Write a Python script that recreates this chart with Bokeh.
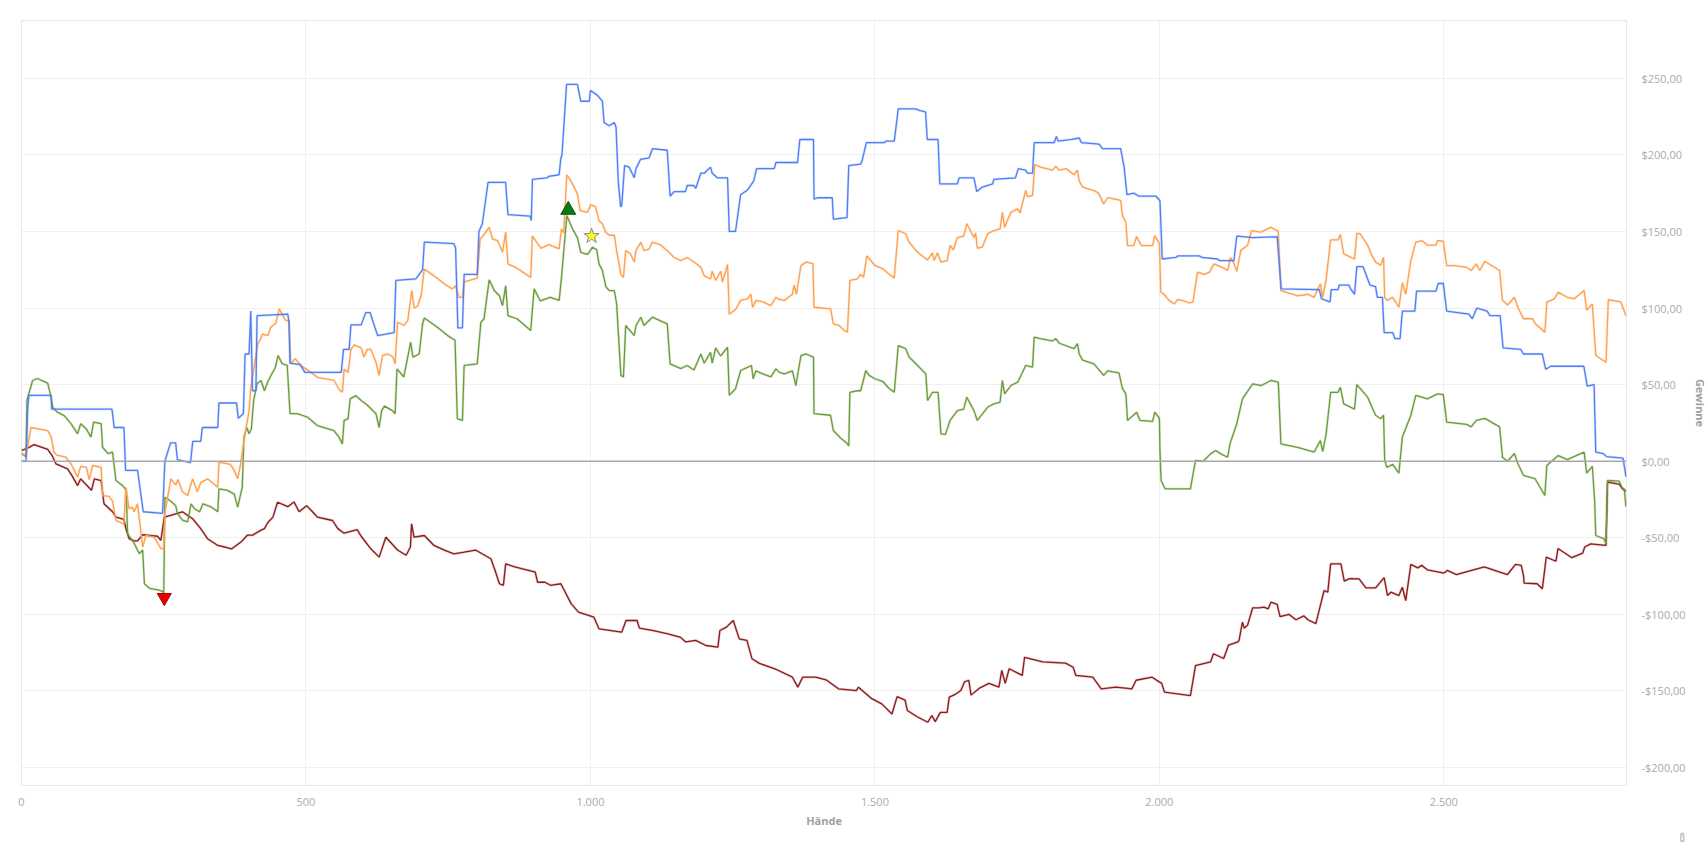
from bokeh.plotting import figure
from bokeh.models import Range1d, FixedTicker, Span, Title
from bokeh.embed import file_html
from bokeh.resources import INLINE

# ---- data (hands, winnings in $) ----
blue_pts = [(0,0),(8,0),(11,35),(13,43),(52,43),(53,34),(159,34),(163,22),(180,22),(183,-6),(204,-6),(214,-33),(248,-34),(252,0),(262,12),(271,12),(274,1),(297,-1),(301,13),(315,13),(318,22),(345,22),(347,38),(378,38),(381,28),(390,31),(393,70),(400,70),(403,98),(406,46),(412,46),(414,95),(468,96),(470,91),(472,64),(490,63),(498,58),(562,58),(566,73),(576,73),(579,89),(597,89),(605,97),(613,97),(617,92),(626,82),(655,84),(658,118),(693,119),(705,125),(708,143),(760,142),(763,139),(767,87),(775,87),(778,122),(801,122),(804,150),(810,155),(820,182),(851,182),(855,161),(894,160),(896,157),(898,184),(924,185),(927,186),(945,187),(948,198),(950,200),(958,246),(977,246),(983,235),(998,235),(1000,242),(1012,239),(1021,235),(1024,221),(1033,219),(1042,221),(1045,218),(1049,182),(1053,166),(1055,167),(1060,193),(1068,192),(1077,185),(1080,191),(1088,197),(1103,198),(1109,204),(1135,203),(1140,173),(1147,176),(1167,176),(1170,180),(1182,180),(1185,178),(1194,188),(1200,188),(1211,192),(1214,188),(1223,185),(1241,185),(1244,150),(1255,150),(1261,166),(1264,174),(1276,177),(1287,183),(1292,191),(1323,191),(1326,195),(1364,195),(1368,210),(1392,210),(1393,171),(1399,172),(1425,172),(1427,158),(1451,159),(1454,193),(1475,194),(1478,197),(1485,208),(1516,208),(1520,209),(1534,209),(1541,230),(1572,230),(1578,229),(1589,228),(1592,210),(1611,210),(1614,181),(1645,181),(1648,185),(1674,185),(1679,176),(1689,179),(1707,181),(1709,184),(1747,185),(1752,191),(1765,190),(1768,188),(1777,188),(1780,208),(1815,208),(1819,212),(1822,209),(1844,210),(1859,211),(1863,208),(1894,207),(1900,204),(1932,204),(1938,192),(1943,174),(1955,175),(1964,173),(1994,173),(2001,170),(2005,132),(2029,133),(2032,134),(2070,134),(2075,133),(2102,132),(2105,131),(2131,131),(2136,147),(2164,146),(2207,146.5),(2214,112.5),(2281,112),(2285,106),(2300,104),(2302,112),(2314,112),(2316,115),(2333,115),(2336,112.5),(2343,109),(2347,127),(2358,127),(2370,115),(2380,114),(2383,107),(2392,107),(2395,84),(2410,84),(2414,80),(2423,80),(2427,98),(2449,98),(2452,111),(2486,111),(2490,116),(2499,116),(2505,98),(2544,96),(2550,93),(2558,100),(2576,98),(2581,95),(2599,95),(2604,74),(2635,73),(2640,70),(2673,70),(2679,60),(2688,62),(2746,62),(2752,49),(2764,50),(2767,6),(2780,5),(2786,3),(2815,2),(2820,-10)]

orange_pts = [(0,5),(8,4),(12,12),(16.5,22),(46,20),(52,16),(57,6),(62,4),(78,2.6),(87,-1.7),(98.6,-10.4),(104,-3.3),(114,-4),(119,-12),(125,-2.8),(140,-4),(142.5,-22.4),(154,-23),(160,-26),(166,-38.7),(180,-41),(183.5,-17),(189,-31),(195,-30),(198,-33),(204,-27.8),(213,-56),(218.6,-48.5),(233,-49.6),(245,-57),(250,-57),(252,-34),(262.5,-11.5),(271,-15.5),(275,-12),(283,-20),(292,-22.4),(300.7,-11.5),(309,-20),(315,-14),(327,-11.5),(345,-17),(347,-0.6),(367,-2),(374,-6),(380,-11.5),(385,-2),(391,13.5),(400,33),(403,48),(415,76),(424,83),(433,82),(438,87.5),(447,90),(453,99.5),(458,96),(464,92),(470.5,91.8),(473,63.5),(481,67),(491,62.5),(508.6,58),(520,54.8),(549.6,52.7),(558,47),(564,45),(567,60),(574,58),(579,73),(585,76),(597,74),(602,68),(608,73),(614,73),(623,64.6),(628.6,56),(634.6,69),(644,70),(653,68),(656.7,63.5),(661,90.7),(672.6,88.6),(679,92),(686,111.4),(690,100),(696,101),(703,109),(707.7,125.5),(725,121),(743,115.8),(757,112.5),(763,114.5),(769,107),(775,107),(778,117),(801,119.5),(806,145),(813,148),(822,152.7),(828,145),(837,144),(845.5,136.4),(851,149.5),(855,128.8),(871,126),(895,120),(898,147),(913,139),(927,141.4),(945,138.6),(949,151.7),(953,149),(958.5,187),(965.6,183),(977,174.5),(982,163.6),(995,162.5),(1000.5,167.6),(1009,166),(1015,157),(1021,155),(1027,149.5),(1033,147.5),(1042,147.5),(1046,137.5),(1053.5,122),(1058,120),(1062,137.5),(1070,135.6),(1077,130),(1080,137.5),(1088.6,143),(1094,137.5),(1103,138.5),(1109,143),(1124,141),(1138,136.4),(1147,133),(1159,131),(1170,133),(1182,130),(1194,126.6),(1200,121),(1211,119),(1214,124),(1220,118),(1229,124),(1232,117),(1241,128.4),(1244,96),(1255,99),(1264,105),(1276,106),(1282,109),(1285,100.6),(1291,105),(1303,104),(1317,101.6),(1326,107),(1332,105.6),(1341,105),(1355,109),(1358,115),(1362,109),(1370,127.7),(1379,130),(1391,129),(1393,100.5),(1422,99.5),(1427,89.7),(1437,88.6),(1446,85.4),(1451.7,84.2),(1456,118),(1469,119),(1475,122),(1480,120),(1485.8,134),(1493,131),(1499,128),(1514,125.6),(1525,122),(1534,119.7),(1541,150.6),(1554,148.5),(1560,143),(1575,136.4),(1592.5,131.4),(1601,136),(1604,131),(1610,136),(1616,130),(1627,131),(1632,140.8),(1638,138),(1645,146),(1656,147),(1661.5,155),(1674,146),(1677,149),(1680,139),(1689,140),(1698,148.4),(1709,150.6),(1720,151.7),(1724,162.5),(1728,152.7),(1739,162.5),(1751,164.7),(1755,162),(1765,176.7),(1768,172.7),(1777,173.5),(1781,193.7),(1791,192),(1812,190),(1818,192.5),(1824,190),(1836,191),(1850,187),(1856,190),(1859,183),(1865,179),(1885,176.7),(1893,175),(1902,168),(1909,172),(1929,170.6),(1932,170),(1935,160.5),(1941,156),(1944,140.8),(1955,140.8),(1960,146.7),(1968,140.8),(1988,140.8),(1992,147.3),(2000,142),(2002.5,110.3),(2008,109),(2017,105),(2026,102.7),(2032,105.5),(2044,104.6),(2052,103.4),(2059,103.8),(2067,123.4),(2079,122),(2088,123.4),(2096,128.8),(2111,126.4),(2120,124.6),(2125,133),(2130,130),(2136,124),(2143,137.5),(2155,141),(2162,150.6),(2178,149.5),(2196,152.7),(2209,150),(2213.6,111.4),(2243,108),(2261,109),(2272,107),(2283,115.8),(2287,107),(2293,118.5),(2301,144.5),(2314,144.5),(2318,148),(2324,135.4),(2343,132),(2347,148.8),(2353,148.5),(2366,141),(2372,135.4),(2380,130),(2389,128),(2394,133),(2396,107),(2400,105),(2410,107),(2421,100.5),(2427,116.5),(2433,109),(2442,131),(2450.6,143),(2462,144),(2471,141),(2486,141),(2489,144),(2499,143.6),(2505,127.7),(2518,127.7),(2540,126.6),(2548,124.5),(2557,128.8),(2563,124.5),(2572,130.5),(2598,124.5),(2603,105),(2612,102),(2624,107),(2630,100.5),(2640,93),(2656,93),(2660,90),(2677.5,84.2),(2681,103.8),(2694,106),(2701,110.3),(2717,107),(2729,106),(2746.5,111.4),(2751,98.6),(2761,102.6),(2767,69),(2785,64.6),(2789,105.4),(2811,104),(2820,95)]

green_pts = [(0,5),(8,3),(9.5,39.6),(19.5,52.7),(28,54),(40,52),(46,51),(52,41.8),(55,35),(63,32),(75,29.8),(87,24.5),(98.6,17.9),(104,24.5),(114,21),(122,15.7),(126.7,25.5),(140,24.5),(142.5,9.1),(152,5),(160,6),(166,-12.6),(178,-16),(184,-19),(186.5,-47.4),(198,-53.5),(207,-60.4),(213,-58),(216,-80),(225,-83),(240,-84),(248,-85),(250,-87),(252,-23.5),(262,-26),(271,-29),(274,-34),(283,-38.5),(292,-39.6),(298,-27.8),(304,-31),(313,-33),(319,-27.8),(334,-30),(345,-33),(347,-18),(362,-19),(374,-21.5),(380,-30),(384,-23.5),(388,-17),(391,15.7),(396,22),(400,17.9),(404,21),(408,39.6),(414,50.5),(421,52.7),(427,46),(433,52),(440,57),(446,61),(451,69),(458,63.7),(467,62.6),(472,31),(485,31),(503,28.7),(520,23.3),(549,20),(558,15.7),(564,11.3),(567,26.6),(574,27.7),(577.7,40.7),(587.6,42.8),(597,39.6),(608,36.5),(623,31),(628.6,22),(633,33),(638,36),(652,33),(656.7,31),(660,60.3),(672,55),(684,77.7),(688,68),(699,70),(705,89.7),(708,93.5),(731,87.5),(749,82),(762,79),(766,27.7),(775,26.6),(778,62.5),(801,63.5),(807.4,90.7),(813,93),(822,118.4),(831,111.4),(840,108),(845.5,101.6),(851,114.5),(855,95),(871,93),(895,85.3),(901,112.5),(912,104.6),(929,107),(945,105),(949,119.5),(958.5,160.4),(968.5,151.7),(977,146),(983,136.4),(995,135),(1003.6,139.7),(1011,138),(1015,128.8),(1021,124.6),(1027,114),(1033,111.4),(1042,111.4),(1046,102.7),(1053.5,56),(1058,55),(1062,88.6),(1077,82),(1080,88.6),(1088.6,94),(1094,88.6),(1109,94),(1124,91.5),(1135,89.7),(1140,63.5),(1159,60.5),(1170,62.5),(1182,59.5),(1194,70),(1200,64),(1211,71),(1214,64),(1220,74),(1229,68.7),(1241,74.4),(1244,43),(1255,47.3),(1264,59.2),(1276,61.3),(1283,62.5),(1286,53.8),(1291,59),(1303,57),(1317,55),(1326,60.3),(1332,58),(1341,57),(1355,59),(1361,49.4),(1370,69),(1379,70),(1392,68),(1393,31),(1422,30),(1427,20),(1440,15),(1450,12),(1454,10),(1456,45),(1469,46),(1475,46),(1484,59.2),(1490,56),(1499,54),(1514,52),(1525,47.5),(1534,45),(1541,75.5),(1554,73.5),(1560,68),(1575,62.5),(1589.5,57),(1592.5,39.6),(1601,45),(1611,45),(1616,17.9),(1624,17.5),(1632,26.6),(1645,33),(1656,34),(1661.5,41.8),(1674,33),(1680,26.6),(1698,35.2),(1709,37.4),(1720,38.5),(1724,52.7),(1728,44),(1739,49.4),(1751,51.6),(1765,62.5),(1777,61.4),(1780,81),(1791,80),(1812,78.5),(1818,80),(1824,77),(1850,73.5),(1856,76.7),(1859,70),(1865,66),(1885,63.5),(1902,56),(1909,59),(1929,57.6),(1935,47.5),(1941,44),(1944,26.6),(1960,32),(1966,26.6),(1988,26),(1992,32),(2000,28),(2001,7),(2003,-12.6),(2010,-18),(2032,-18),(2054.5,-18),(2063.5,0.5),(2077,0),(2090,4.8),(2099,7),(2108,4.8),(2120,2.6),(2124,11.3),(2136,24.4),(2140,31),(2146,40.7),(2164,50.5),(2179,49.4),(2196,52.7),(2209,51.6),(2213.6,11.3),(2243,9),(2272,6),(2283,13.5),(2287,6.3),(2293,17.5),(2301,45),(2314,45),(2318,48.3),(2324,37.4),(2343,34),(2347,50),(2366,41.8),(2380,30),(2389,27.7),(2394,30),(2396,0.5),(2400,-4),(2410,-2),(2421,-7.8),(2427,15.7),(2442,30),(2450.6,43),(2471,40.7),(2489,44),(2499,43.5),(2505,25.5),(2540,24),(2548,22.4),(2557,26.6),(2572,28),(2598,22.4),(2603,2.6),(2612,0),(2624,5),(2630,-1.5),(2640,-9.3),(2660,-11.3),(2677.5,-22.4),(2681,-2.8),(2701,3.7),(2717,1),(2746.5,5.9),(2751,-7.8),(2761,-3.3),(2765,-25.6),(2767,-48.5),(2781.6,-50.7),(2785,-54),(2787.6,-12.6),(2808,-13),(2814,-17.6),(2817,-18),(2820,-29.6)]

red_pts = [(0,7),(13.5,9),(22,10.9),(46,7.8),(54,3.5),(60.5,-1.7),(81,-5),(89,-9.6),(98.6,-15.9),(104,-11.5),(123,-19),(128,-11.5),(140,-12.6),(145,-27.8),(160,-33),(166,-36.5),(180,-38),(183.5,-44),(189,-50.5),(198,-52),(204,-52),(213,-48),(239,-49),(245,-51.7),(251,-36.5),(262,-35.4),(283,-33),(292,-35.4),(301,-37.6),(315,-44),(327,-50.6),(345,-55),(357,-56),(369,-57.3),(385.6,-52.8),(397,-48.3),(406,-48.3),(421,-45),(427,-44),(433,-40),(442,-36.5),(450,-26.8),(462,-28.7),(468,-29.7),(479,-26.6),(488,-33),(501,-29),(509,-32),(520,-36.5),(546.7,-38.7),(556,-44),(567,-47),(590,-44.7),(597,-49),(614,-57.2),(628.6,-62.6),(640.4,-49.6),(661,-58),(676,-61.4),(683.6,-56),(685.6,-40.9),(690,-49.6),(708,-48.5),(725,-55),(743,-58),(760,-60.5),(778,-59.4),(798,-58),(825,-63.7),(833,-72),(840,-80),(847,-81),(851,-67),(867,-69),(903,-72.4),(907,-79),(920,-79),(930,-81),(948,-80),(966,-93),(979,-98.5),(1006,-101.8),(1015,-109.4),(1055,-111.6),(1062.5,-104),(1082,-104),(1086,-109),(1109,-110.5),(1136,-112.7),(1158.5,-115),(1167.6,-118),(1185,-117),(1203,-120.3),(1224,-121.4),(1227.5,-110.5),(1239,-108.3),(1251,-104),(1261.5,-116),(1275,-117),(1284,-129),(1297,-132),(1324,-135.5),(1355,-141),(1364.5,-147.5),(1373,-141),(1396,-141),(1414,-142.7),(1436,-148.6),(1467.5,-149.7),(1471,-147.5),(1494.5,-155),(1512,-158.4),(1530,-165),(1539,-153.7),(1553,-156),(1557,-162.7),(1575,-167),(1593,-170.4),(1600,-166),(1606,-170),(1615,-164),(1627,-164),(1630.7,-154),(1642,-152),(1651,-149.7),(1657.6,-144),(1665,-143),(1669,-152.7),(1683,-148.3),(1700.5,-145),(1718,-147.5),(1723,-136.6),(1729,-145),(1736,-135.5),(1759,-139.8),(1763,-128),(1795,-131),(1835,-131.8),(1848.5,-134.5),(1853,-139.8),(1883,-141),(1897.7,-148.6),(1924,-147.5),(1951.6,-148.6),(1959,-143),(1987,-141),(2004,-145),(2009,-150.8),(2054.5,-153),(2063.5,-133.4),(2090,-131),(2095,-125.7),(2113,-128.8),(2121.6,-120),(2138,-118),(2140,-117),(2146,-105),(2149,-109),(2155,-107),(2164,-95.7),(2175,-95.7),(2184,-95.3),(2191,-96.4),(2196,-92),(2207,-93.5),(2212,-101.4),(2228,-100),(2240,-103.5),(2254,-101),(2261,-103.5),(2275,-106),(2281,-97),(2289.5,-84.4),(2296,-85.5),(2301,-67),(2319,-67),(2325,-78.3),(2334,-76.6),(2351,-76.8),(2363,-82.7),(2380,-82.7),(2395,-76),(2401,-87.7),(2407,-85.5),(2421,-87.7),(2427,-82.3),(2433,-91),(2442,-67.4),(2454,-69.6),(2461,-68),(2471,-70.9),(2500,-73),(2506,-71.3),(2522,-74),(2571,-69),(2611.6,-74),(2617,-71.5),(2626,-67.4),(2636,-68),(2640,-74.7),(2641,-79.6),(2664,-80),(2673,-83.3),(2680,-62.6),(2697,-65.3),(2700.6,-57),(2725,-63),(2744,-60),(2747.6,-56),(2758,-54),(2785,-55),(2787.6,-13.7),(2808,-15),(2814,-18),(2820,-19.6)]

min_marker = (251, -89)
max_marker = (961, 164)
star_marker = (1002, 147)

x_ticks = [0, 500, 1000, 1500, 2000, 2500]
x_tick_labels = ["0", "500", "1.000", "1.500", "2.000", "2.500"]
y_ticks = [-200, -150, -100, -50, 0, 50, 100, 150, 200, 250]
y_tick_labels = ["-$200,00", "-$150,00", "-$100,00", "-$50,00", "$0,00",
                 "$50,00", "$100,00", "$150,00", "$200,00", "$250,00"]

FONT = "Open Sans"

p = figure(frame_width=1605, frame_height=765,
           x_range=Range1d(0, 2821), y_range=Range1d(-211.7, 287.7),
           y_axis_location="right", output_backend="svg", toolbar_location=None,
           min_border_left=21, min_border_top=20, min_border_right=0, min_border_bottom=0)
p.background_fill_color = "white"
p.border_fill_color = "white"
p.outline_line_color = "#e6e6e6"
p.outline_line_width = 1

p.xgrid.ticker = FixedTicker(ticks=x_ticks)
p.ygrid.ticker = FixedTicker(ticks=y_ticks)
p.xgrid.grid_line_color = "#efefef"
p.ygrid.grid_line_color = "#efefef"

p.xaxis.ticker = FixedTicker(ticks=x_ticks)
p.xaxis.major_label_overrides = {t: l for t, l in zip(x_ticks, x_tick_labels)}
p.yaxis.ticker = FixedTicker(ticks=y_ticks)
p.yaxis.major_label_overrides = {t: l for t, l in zip(y_ticks, y_tick_labels)}
for ax in (p.xaxis[0], p.yaxis[0]):
    ax.axis_line_color = None
    ax.major_tick_line_color = None
    ax.minor_tick_line_color = None
    ax.major_label_text_color = "#aaaaaa"
    ax.major_label_text_font = FONT
    ax.major_label_text_font_size = "11px"
    ax.axis_label_text_color = "#a0a0a0"
    ax.axis_label_text_font = FONT
    ax.axis_label_text_font_size = "11px"
    ax.axis_label_text_font_style = "bold"
p.xaxis.axis_label = "Hände"
p.yaxis.axis_label = "Gewinne"
p.xaxis.major_label_standoff = 6
p.xaxis.axis_label_standoff = 4
p.yaxis.major_label_standoff = 9
p.yaxis.axis_label_standoff = 4

p.add_layout(Span(location=0, dimension="width", line_color="#a8a8a8", line_width=1.5))

def xy(pts):
    return [a for a, b in pts], [b for a, b in pts]

for pts, col in ((red_pts, "#8e1a1a"), (green_pts, "#6b9c3b"),
                 (orange_pts, "#ffa04f"), (blue_pts, "#4f7ef6")):
    xs, ys = xy(pts)
    p.line(xs, ys, line_color=col, line_alpha=0.22, line_width=2.6)
    p.line(xs, ys, line_color=col, line_width=1.3)

p.scatter([min_marker[0]], [min_marker[1]], marker="inverted_triangle", size=14,
          fill_color="#e60000", line_color="#b00000")
p.scatter([max_marker[0]], [max_marker[1]], marker="triangle", size=15,
          fill_color="#0a7a12", line_color="#055a0a")
p.scatter([star_marker[0]], [star_marker[1]], marker="star", size=16,
          fill_color="#ffff1a", line_color="#8a8aa0")

# small info icon below the plot, bottom right
icon = Title(text="i", align="right", offset=-58, standoff=0,
             text_color="white", text_font="DejaVu Sans", text_font_style="bold",
             text_font_size="7px", background_fill_color="#c4c4c4",
             border_radius=5, padding=1)
p.add_layout(icon, "below")

open("out.html", "w").write(file_html(p, INLINE))
